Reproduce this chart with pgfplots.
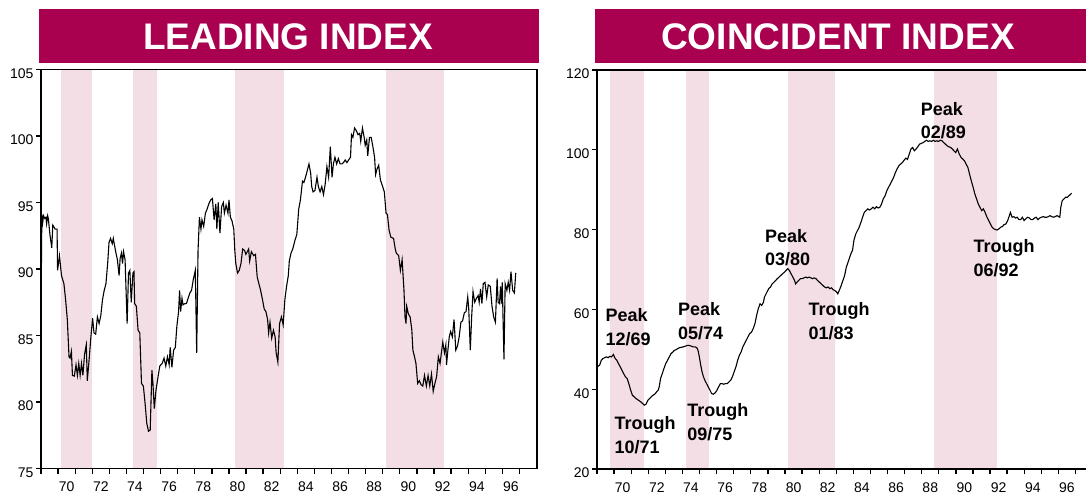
\documentclass[border=0pt]{standalone}
\usepackage{fontspec}
\setmainfont{Liberation Sans}
\usepackage{pgfplots}
\pgfplotsset{compat=1.18}
\usepackage{pgfplotstable}
\definecolor{banner}{RGB}{170,0,80}
\definecolor{band}{RGB}{242,222,228}

\pgfplotstableread{
year val
1969.02 89.5
1969.05 94.1
1969.10 93.5
1969.15 94.0
1969.22 93.8
1969.29 93.9
1969.33 93.4
1969.39 94.0
1969.43 93.8
1969.53 92.5
1969.63 91.6
1969.69 93.3
1969.83 93.0
1969.94 93.0
1969.97 89.9
1970.08 91.0
1970.20 89.5
1970.34 88.9
1970.44 87.7
1970.54 86.2
1970.64 83.4
1970.70 83.3
1970.78 83.8
1970.84 82.0
1970.95 81.95
1971.05 82.8
1971.13 82.0
1971.21 82.9
1971.29 82.0
1971.37 82.9
1971.45 82.0
1971.55 83.6
1971.65 84.3
1971.71 81.6
1971.81 83.1
1971.92 84.9
1972.02 86.3
1972.10 85.2
1972.20 85.1
1972.30 86.4
1972.40 85.9
1972.50 86.5
1972.60 87.7
1972.70 88.4
1972.80 88.9
1972.90 90.4
1972.98 92.0
1973.07 92.3
1973.17 91.9
1973.23 92.3
1973.37 91.3
1973.47 90.7
1973.57 89.5
1973.63 90.8
1973.71 91.2
1973.77 90.4
1973.83 91.3
1973.92 90.7
1974.04 85.9
1974.12 89.7
1974.20 89.9
1974.28 87.5
1974.38 89.7
1974.44 89.8
1974.48 87.4
1974.58 87.2
1974.68 85.4
1974.78 85.2
1974.88 81.4
1974.99 81.2
1975.09 79.9
1975.19 78.4
1975.29 77.8
1975.39 77.9
1975.49 82.4
1975.55 81.4
1975.63 79.5
1975.73 80.9
1975.85 81.9
1975.95 82.7
1976.09 82.9
1976.20 83.3
1976.30 82.7
1976.40 83.4
1976.50 82.8
1976.56 84.1
1976.66 82.6
1976.76 83.9
1976.86 84.1
1976.95 85.7
1977.05 86.8
1977.11 88.4
1977.17 86.8
1977.25 87.8
1977.31 87.3
1977.41 87.4
1977.51 87.4
1977.61 87.8
1977.71 88.2
1977.81 88.4
1977.91 89.2
1978.03 89.9
1978.11 83.7
1978.19 91.4
1978.27 93.9
1978.36 93.0
1978.42 93.7
1978.52 93.2
1978.62 94.2
1978.72 94.5
1978.82 94.9
1978.93 95.2
1979.03 95.3
1979.13 93.7
1979.23 94.9
1979.29 93.0
1979.37 95.0
1979.47 92.7
1979.57 94.7
1979.67 95.0
1979.73 94.2
1979.83 94.8
1979.94 94.2
1980.00 95.2
1980.08 93.9
1980.18 93.6
1980.28 93.0
1980.34 91.4
1980.40 90.4
1980.50 89.7
1980.60 89.9
1980.70 90.4
1980.80 91.5
1980.91 91.4
1980.99 91.1
1981.15 91.5
1981.21 90.6
1981.31 91.3
1981.45 91.0
1981.55 91.1
1981.65 89.4
1981.75 88.9
1981.85 88.4
1981.96 87.7
1982.06 87.0
1982.16 86.8
1982.26 86.2
1982.32 85.2
1982.40 86.0
1982.50 84.8
1982.60 85.4
1982.70 84.9
1982.76 83.7
1982.86 83.0
1982.96 85.9
1983.07 86.4
1983.17 85.8
1983.27 87.7
1983.37 88.7
1983.47 89.5
1983.53 90.6
1983.63 91.2
1983.73 91.5
1983.87 92.2
1983.97 92.6
1984.08 94.5
1984.18 95.2
1984.30 96.6
1984.38 96.5
1984.48 96.9
1984.58 97.4
1984.68 97.9
1984.78 97.2
1984.84 96.2
1984.92 95.8
1985.03 95.9
1985.15 96.9
1985.23 96.2
1985.33 95.8
1985.43 96.2
1985.53 95.6
1985.63 96.4
1985.73 97.7
1985.83 96.9
1985.93 99.2
1986.03 96.9
1986.11 97.9
1986.20 98.4
1986.30 97.9
1986.40 98.3
1986.50 97.9
1986.60 97.9
1986.70 98.0
1986.80 98.2
1986.90 98.0
1987.00 98.2
1987.11 98.4
1987.17 100.1
1987.25 99.9
1987.35 100.6
1987.45 100.4
1987.55 100.1
1987.65 100.2
1987.71 99.6
1987.81 100.6
1987.91 99.9
1987.97 99.3
1988.06 99.7
1988.12 98.5
1988.22 99.9
1988.32 99.9
1988.42 99.2
1988.52 98.4
1988.58 97.1
1988.66 97.5
1988.76 97.8
1988.86 96.7
1988.99 96.2
1989.09 95.8
1989.19 94.2
1989.27 94.1
1989.37 92.9
1989.47 92.4
1989.63 92.3
1989.73 91.5
1989.79 91.2
1989.93 91.0
1990.03 89.9
1990.13 90.7
1990.24 88.4
1990.30 86.4
1990.36 85.9
1990.40 87.2
1990.50 86.6
1990.60 86.4
1990.70 85.4
1990.76 83.9
1990.84 83.5
1990.94 82.9
1991.04 81.4
1991.14 81.6
1991.24 81.3
1991.34 81.2
1991.44 82.0
1991.55 81.2
1991.65 82.0
1991.75 81.2
1991.85 82.1
1991.95 80.8
1992.05 81.4
1992.15 81.9
1992.25 83.4
1992.35 82.9
1992.45 83.9
1992.51 84.5
1992.61 83.7
1992.69 84.3
1992.73 82.8
1992.81 83.9
1992.89 84.9
1992.97 85.3
1993.07 84.9
1993.17 86.2
1993.27 83.9
1993.37 84.2
1993.47 84.9
1993.57 86.0
1993.67 86.1
1993.77 86.7
1993.87 86.8
1993.97 87.9
1994.03 87.0
1994.12 83.9
1994.20 86.4
1994.28 88.3
1994.38 87.5
1994.48 87.8
1994.58 88.0
1994.64 87.5
1994.72 88.5
1994.80 87.4
1994.88 88.9
1994.98 89.0
1995.08 87.9
1995.17 88.8
1995.29 88.7
1995.39 87.2
1995.49 86.4
1995.59 86.0
1995.69 89.3
1995.75 87.5
1995.83 87.4
1995.89 88.7
1995.95 87.4
1995.99 89.0
1996.09 83.2
1996.16 88.9
1996.26 88.4
1996.34 89.0
1996.42 88.4
1996.50 89.8
1996.60 88.4
1996.70 88.2
1996.78 89.7
}\leading

\pgfplotstableread{
year val
1969.01 45.6
1969.15 46.0
1969.25 47.25
1969.35 47.7
1969.45 47.9
1969.55 48.1
1969.65 47.9
1969.75 48.25
1969.85 48.1
1969.96 48.7
1970.06 47.7
1970.16 47.25
1970.26 46.4
1970.36 45.6
1970.46 44.75
1970.56 43.9
1970.66 43.1
1970.76 42.7
1970.86 41.4
1970.97 39.75
1971.07 38.5
1971.17 38.1
1971.27 37.7
1971.37 37.4
1971.47 37.1
1971.57 36.8
1971.67 36.4
1971.77 36.0
1971.87 36.25
1971.98 37.25
1972.08 37.7
1972.18 38.1
1972.28 38.5
1972.38 38.75
1972.48 39.3
1972.58 39.75
1972.64 40.6
1972.72 42.7
1972.82 43.9
1972.92 45.2
1973.02 46.4
1973.13 47.25
1973.23 48.1
1973.33 48.9
1973.43 49.3
1973.53 49.75
1973.63 49.9
1973.73 50.2
1973.83 50.4
1973.93 50.5
1974.04 50.6
1974.14 50.75
1974.24 50.9
1974.34 51.0
1974.44 50.9
1974.54 50.75
1974.64 50.6
1974.74 50.6
1974.84 50.4
1974.91 49.75
1974.99 48.1
1975.07 46.0
1975.15 44.3
1975.23 43.1
1975.31 42.25
1975.41 41.4
1975.51 40.6
1975.61 39.75
1975.71 38.9
1975.81 38.75
1975.92 39.1
1976.02 39.75
1976.12 40.6
1976.22 41.4
1976.32 41.4
1976.42 41.25
1976.52 41.4
1976.62 41.4
1976.72 41.8
1976.82 42.25
1976.92 43.1
1977.02 44.3
1977.13 45.6
1977.23 47.25
1977.33 48.5
1977.43 49.3
1977.53 50.6
1977.63 51.4
1977.73 52.25
1977.83 53.1
1977.93 53.9
1978.04 54.3
1978.14 55.2
1978.24 56.4
1978.34 58.5
1978.44 60.2
1978.54 61.4
1978.64 61.0
1978.74 61.8
1978.80 63.1
1978.94 64.3
1979.05 65.2
1979.15 65.6
1979.25 66.4
1979.35 66.8
1979.45 67.25
1979.55 67.7
1979.65 68.1
1979.75 68.5
1979.85 68.9
1979.96 69.3
1980.06 69.75
1980.16 70.2
1980.26 69.75
1980.36 68.9
1980.46 68.1
1980.56 67.25
1980.62 66.4
1980.70 66.8
1980.80 67.25
1980.90 67.7
1981.01 67.7
1981.11 67.9
1981.21 68.1
1981.31 67.9
1981.41 68.1
1981.51 67.9
1981.61 67.7
1981.71 67.9
1981.81 67.7
1981.91 67.25
1982.02 66.8
1982.12 66.4
1982.22 66.0
1982.32 65.6
1982.42 65.4
1982.52 65.6
1982.62 65.2
1982.72 65.4
1982.82 64.9
1982.92 64.75
1983.03 64.3
1983.09 63.9
1983.19 64.9
1983.29 66.0
1983.39 67.25
1983.49 68.5
1983.59 70.6
1983.69 71.8
1983.79 73.1
1983.89 74.3
1983.95 74.75
1984.03 77.25
1984.14 78.9
1984.24 79.75
1984.34 80.6
1984.44 81.8
1984.54 83.1
1984.64 84.3
1984.74 84.75
1984.84 85.2
1984.94 84.9
1985.05 85.2
1985.15 85.6
1985.25 85.2
1985.35 85.75
1985.45 85.4
1985.55 85.6
1985.65 86.4
1985.75 87.7
1985.86 88.5
1985.96 89.75
1986.06 90.6
1986.16 91.4
1986.26 92.25
1986.36 93.1
1986.46 94.3
1986.56 95.2
1986.66 96.0
1986.76 96.4
1986.87 96.8
1986.97 97.4
1987.07 97.9
1987.17 97.6
1987.27 98.9
1987.37 100.2
1987.47 100.6
1987.57 99.75
1987.67 100.2
1987.77 100.75
1987.87 101.4
1987.97 101.6
1988.08 101.8
1988.18 102.1
1988.28 102.4
1988.38 102.1
1988.48 102.25
1988.58 102.1
1988.68 102.4
1988.78 102.1
1988.88 102.25
1988.98 102.1
1989.09 102.4
1989.19 102.25
1989.29 101.8
1989.39 101.4
1989.49 101.0
1989.59 100.75
1989.69 100.6
1989.79 100.2
1989.89 99.75
1989.99 99.3
1990.09 100.2
1990.20 98.9
1990.30 98.1
1990.40 97.7
1990.50 97.25
1990.60 96.4
1990.70 95.6
1990.80 93.9
1990.90 92.25
1991.01 90.6
1991.11 88.9
1991.21 87.7
1991.31 86.4
1991.41 85.6
1991.51 84.75
1991.61 85.2
1991.71 84.3
1991.82 83.1
1991.92 82.25
1992.02 81.4
1992.12 80.6
1992.22 80.2
1992.32 80.0
1992.42 79.9
1992.52 80.2
1992.62 80.6
1992.72 80.75
1992.82 81.25
1992.92 81.4
1993.03 82.25
1993.13 83.5
1993.19 84.3
1993.29 83.1
1993.39 83.25
1993.49 82.9
1993.59 83.1
1993.69 82.5
1993.79 82.5
1993.89 83.1
1993.99 82.25
1994.10 82.75
1994.20 83.1
1994.30 82.9
1994.40 82.5
1994.50 82.5
1994.60 82.9
1994.70 83.1
1994.80 82.5
1994.90 82.9
1995.01 83.1
1995.11 83.25
1995.21 83.1
1995.31 83.1
1995.41 83.25
1995.51 83.5
1995.61 83.25
1995.71 83.1
1995.81 83.25
1995.92 83.5
1996.02 83.25
1996.08 83.1
1996.14 85.6
1996.22 87.25
1996.32 87.7
1996.42 88.1
1996.52 88.1
1996.62 88.5
1996.72 88.9
1996.78 89.1
}\coincident

\pgfplotsset{
  panel/.style={
    scale only axis, width=495.6pt, height=399pt,
    xmin=1969, xmax=1998,
    clip=false, axis on top,
    axis line style={line width=1.8pt},
    tick align=outside, xtick pos=left, ytick pos=left,
    major tick length=5pt,
    every tick/.style={line width=1.3pt, black},
    xtick={1969,...,1997}, xticklabels={},
    extra x ticks={1970.5,1972.5,1974.5,1976.5,1978.5,1980.5,1982.5,1984.5,1986.5,1988.5,1990.5,1992.5,1994.5,1996.5},
    extra x tick labels={70,72,74,76,78,80,82,84,86,88,90,92,94,96},
    extra x tick style={major tick length=0pt},
    xticklabel style={font=\fontsize{14}{14}\selectfont, yshift=-10pt},
    yticklabel style={font=\fontsize{14}{14}\selectfont, yshift=-4pt, xshift=1pt},
    /pgf/number format/assume math mode=true,
  },
}
\tikzset{ann/.style={font=\bfseries\fontsize{18}{23.5}\selectfont, align=left, anchor=west, inner sep=0pt}}

\begin{document}
\begin{tikzpicture}
% banners
\fill[banner] (39pt,-9pt) rectangle (539pt,-63pt);
\node[text=white, font=\bfseries\fontsize{37}{37}\selectfont] at (288pt,-37pt) {LEADING INDEX};
\fill[banner] (595pt,-9pt) rectangle (1095pt,-63pt);
\node[text=white, font=\bfseries\fontsize{37}{37}\selectfont] at (838pt,-37pt) {COINCIDENT INDEX};

\begin{axis}[panel, at={(41pt,-468.5pt)}, anchor=south west,
  ymin=75, ymax=105, ytick={75,80,...,105}]
  \addplot[fill=band, draw=none] coordinates {(1970.17,75) (1971.98,75) (1971.98,105) (1970.17,105)} -- cycle;
  \addplot[fill=band, draw=none] coordinates {(1974.38,75) (1975.79,75) (1975.79,105) (1974.38,105)} -- cycle;
  \addplot[fill=band, draw=none] coordinates {(1980.38,75) (1983.20,75) (1983.20,105) (1980.38,105)} -- cycle;
  \addplot[fill=band, draw=none] coordinates {(1989.19,75) (1992.58,75) (1992.58,105) (1989.19,105)} -- cycle;
  \addplot[black, line width=1.1pt, mark=none] table[x=year, y=val] {\leading};
\end{axis}

\begin{axis}[panel, at={(597pt,-469pt)}, anchor=south west,
  ymin=20, ymax=120, ytick={20,40,...,120}]
  \addplot[fill=band, draw=none] coordinates {(1969.76,20) (1971.75,20) (1971.75,120) (1969.76,120)} -- cycle;
  \addplot[fill=band, draw=none] coordinates {(1974.21,20) (1975.57,20) (1975.57,120) (1974.21,120)} -- cycle;
  \addplot[fill=band, draw=none] coordinates {(1980.16,20) (1982.95,20) (1982.95,120) (1980.16,120)} -- cycle;
  \addplot[fill=band, draw=none] coordinates {(1988.72,20) (1992.42,20) (1992.42,120) (1988.72,120)} -- cycle;
  \addplot[black, line width=1.1pt, mark=none] table[x=year, y=val] {\coincident};
  \node[ann] at (axis cs:1969.49,55.6) {Peak\\12/69};
  \node[ann] at (axis cs:1970.02,28.5) {Trough\\10/71};
  \node[ann] at (axis cs:1973.74,57.0) {Peak\\05/74};
  \node[ann] at (axis cs:1974.27,31.75) {Trough\\09/75};
  \node[ann] at (axis cs:1978.83,75.5) {Peak\\03/80};
  \node[ann] at (axis cs:1981.37,57.0) {Trough\\01/83};
  \node[ann] at (axis cs:1987.94,107.25) {Peak\\02/89};
  \node[ann] at (axis cs:1991.03,72.9) {Trough\\06/92};
\end{axis}

\pgfresetboundingbox
\useasboundingbox (0pt,0pt) rectangle (1086pt,-500pt);
\end{tikzpicture}
\end{document}
